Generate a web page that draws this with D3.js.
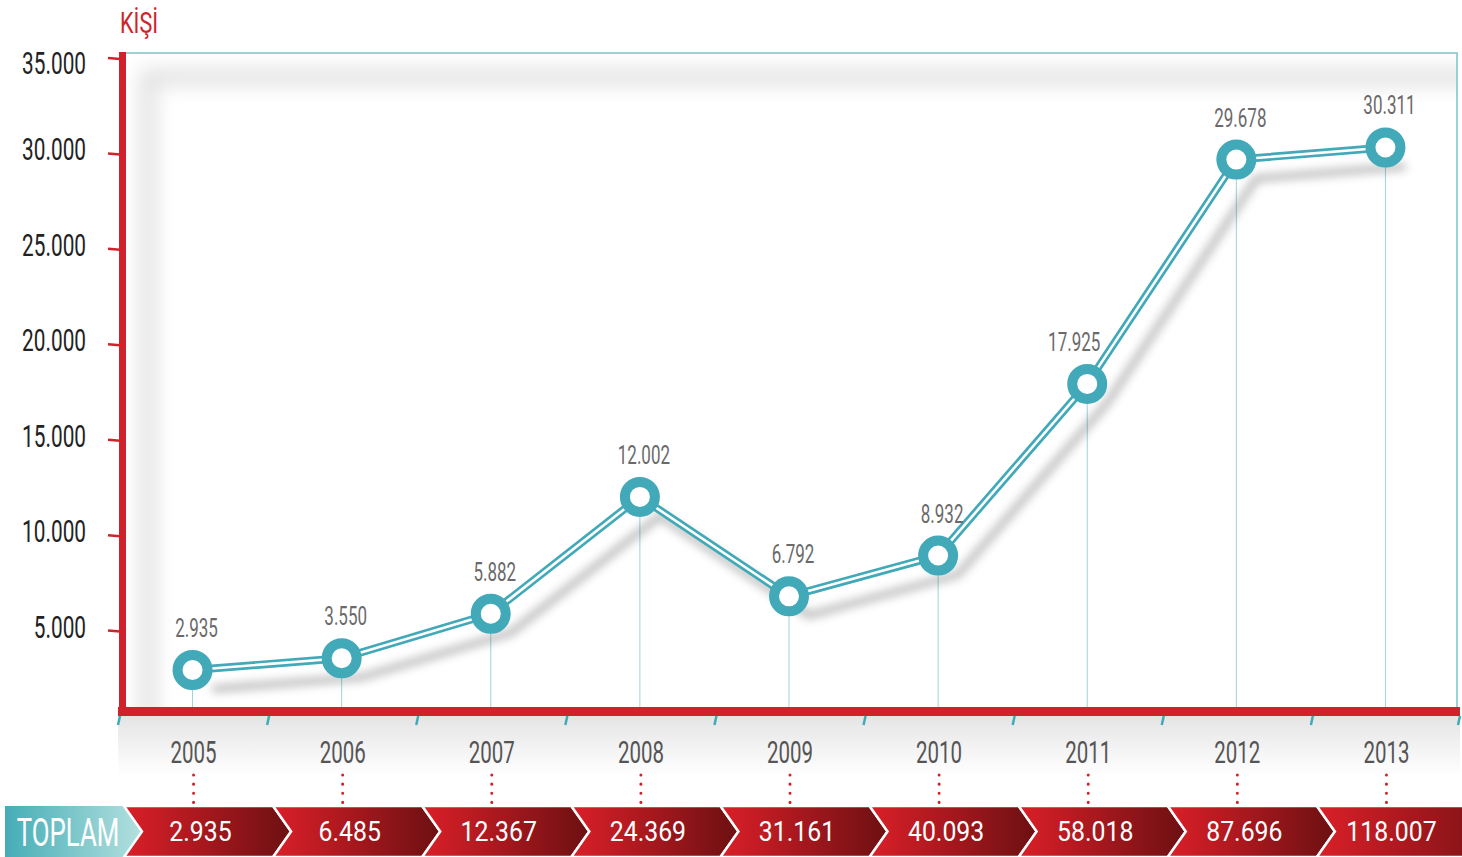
<!DOCTYPE html>
<html>
<head>
<meta charset="utf-8">
<script src="https://cdn.jsdelivr.net/npm/d3@7"></script>
<style>
  html, body { margin: 0; padding: 0; background: #fff; }
  svg { display: block; }
  text { font-family: Roboto, 'DejaVu Sans', sans-serif; }
</style>
</head>
<body>
<svg id="chart" width="1462" height="857"></svg>
<script>
// data
const years = ['2005', '2006', '2007', '2008', '2009', '2010', '2011', '2012', '2013']
const yearly = [2935, 3550, 5882, 12002, 6792, 8932, 17925, 29678, 30311]
const cumulative = [2935, 6485, 12367, 24369, 31161, 40093, 58018, 87696, 118007]
const yTicks = [5000, 10000, 15000, 20000, 25000, 30000, 35000]
const unitLabel = 'KİŞİ'
const totalLabel = 'TOPLAM'

const TEAL = '#42a9b9'
const RED = '#d0222a'
const fmt = v => d3.format(',')(v).replace(/,/g, '.')

const svg = d3.select('#chart')
const defs = svg.append('defs')

const frame = { left: 118, right: 1460, top: 53, bottom: 711 }

const x = d3.scaleBand().domain(years).range([frame.left, frame.right]).padding(0)
const y = d3.scaleLinear().domain([0, 35000]).range([726, 58])
const cx = d => x(d) + x.bandwidth() / 2

// label offsets that keep the number clear of the line
const labelShift = { 2011: -17 }

// filters & gradients
const blur = defs.append('filter').attr('id', 'blur').attr('x', '-20%').attr('y', '-20%').attr('width', '140%').attr('height', '140%')
blur.append('feGaussianBlur').attr('stdDeviation', 5)
const blurBig = defs.append('filter').attr('id', 'blurBig').attr('x', '-20%').attr('y', '-20%').attr('width', '140%').attr('height', '140%')
blurBig.append('feGaussianBlur').attr('stdDeviation', 10)

const redGrad = defs.append('linearGradient').attr('id', 'redGrad')
redGrad.append('stop').attr('offset', '0%').attr('stop-color', '#db1f28')
redGrad.append('stop').attr('offset', '100%').attr('stop-color', '#6c1012')

const tealGrad = defs.append('linearGradient').attr('id', 'tealGrad')
tealGrad.append('stop').attr('offset', '0%').attr('stop-color', '#45adb6')
tealGrad.append('stop').attr('offset', '100%').attr('stop-color', '#b3e0df')

const greyGrad = defs.append('linearGradient').attr('id', 'greyGrad').attr('x1', 0).attr('y1', 0).attr('x2', 0).attr('y2', 1)
greyGrad.append('stop').attr('offset', '0%').attr('stop-color', '#e4e4e4')
greyGrad.append('stop').attr('offset', '100%').attr('stop-color', '#ffffff')

defs.append('clipPath').attr('id', 'inner')
  .append('rect')
  .attr('x', frame.left + 6).attr('y', frame.top)
  .attr('width', frame.right - frame.left - 9).attr('height', frame.bottom - frame.top)

function label (g, px, py, str, size, sx, anchor, fill) {
  return g.append('text')
    .attr('transform', `translate(${px},${py}) scale(${sx},1)`)
    .attr('text-anchor', anchor)
    .attr('font-size', size)
    .attr('fill', fill)
    .text(str)
}

// soft shadow below the axis
svg.append('rect')
  .attr('x', frame.left).attr('y', frame.bottom + 4)
  .attr('width', frame.right - frame.left).attr('height', 60)
  .attr('fill', 'url(#greyGrad)')

// inner shadow of the panel
svg.append('g').attr('clip-path', 'url(#inner)')
  .append('path')
  .attr('d', `M${frame.right + 40},${frame.top + 24} L${frame.left + 30},${frame.top + 24} L${frame.left + 30},${frame.bottom + 40}`)
  .attr('fill', 'none')
  .attr('stroke', '#dcdcdc')
  .attr('stroke-width', 14)
  .attr('filter', 'url(#blurBig)')

// thin teal frame
svg.append('path')
  .attr('d', `M${frame.left + 6},${frame.top} H${frame.right - 3} V${frame.bottom}`)
  .attr('fill', 'none')
  .attr('stroke', '#79c3cc')
  .attr('stroke-width', 1.5)

// drop lines from points
svg.append('g')
  .selectAll('line')
  .data(years)
  .join('line')
  .attr('x1', d => cx(d)).attr('x2', d => cx(d))
  .attr('y1', (d, i) => y(yearly[i])).attr('y2', frame.bottom)
  .attr('stroke', '#9fd2da')
  .attr('stroke-width', 1)

// line
const line = d3.line().x(d => cx(d.year)).y(d => y(d.value))
const pts = years.map((year, i) => ({ year, value: yearly[i] }))

svg.append('path')
  .datum(pts)
  .attr('d', line)
  .attr('transform', 'translate(20,19)')
  .attr('fill', 'none')
  .attr('stroke', '#000')
  .attr('stroke-opacity', 0.28)
  .attr('stroke-width', 7)
  .attr('filter', 'url(#blur)')

svg.append('path')
  .datum(pts)
  .attr('d', line)
  .attr('fill', 'none')
  .attr('stroke', TEAL)
  .attr('stroke-width', 8)
  .attr('stroke-linejoin', 'round')

svg.append('path')
  .datum(pts)
  .attr('d', line)
  .attr('fill', 'none')
  .attr('stroke', '#fff')
  .attr('stroke-width', 2.6)
  .attr('stroke-linejoin', 'round')

// markers
svg.append('g')
  .selectAll('circle')
  .data(pts)
  .join('circle')
  .attr('cx', d => cx(d.year))
  .attr('cy', d => y(d.value))
  .attr('r', 15)
  .attr('fill', '#fff')
  .attr('stroke', TEAL)
  .attr('stroke-width', 10)

// value labels
const valueLabels = svg.append('g')
pts.forEach(d => {
  label(valueLabels, cx(d.year) + 4 + (labelShift[d.year] || 0), y(d.value) - 33, fmt(d.value), 25, 0.68, 'middle', '#6a6a6a')
})

// red axes
svg.append('rect')
  .attr('x', frame.left + 1).attr('y', frame.top - 1)
  .attr('width', 7).attr('height', frame.bottom - frame.top + 5)
  .attr('fill', RED)
svg.append('rect')
  .attr('x', frame.left).attr('y', frame.bottom - 4)
  .attr('width', frame.right - frame.left).attr('height', 9)
  .attr('fill', RED)

// y ticks and labels
const yAxis = svg.append('g')
yTicks.forEach(v => {
  yAxis.append('line')
    .attr('x1', 108).attr('x2', frame.left + 2)
    .attr('y1', y(v)).attr('y2', y(v) + 1)
    .attr('stroke', RED)
    .attr('stroke-width', 2.5)
  label(yAxis, 86, Math.max(y(v) + 7, 74), fmt(v), 32, 0.65, 'end', '#222')
})

label(svg, 120, 33, unitLabel, 30, 0.72, 'start', RED)

// x ticks at band edges
const edges = years.map(d => x(d)).concat([frame.right - 2])
svg.append('g')
  .selectAll('line')
  .data(edges)
  .join('line')
  .attr('x1', d => d + 2).attr('x2', d => d)
  .attr('y1', frame.bottom + 5).attr('y2', frame.bottom + 14)
  .attr('stroke', TEAL)
  .attr('stroke-width', 2.5)

// year labels
const xAxis = svg.append('g')
years.forEach(year => {
  label(xAxis, cx(year) + 1, 763, year, 32, 0.64, 'middle', '#555')
})

// dotted connectors
svg.append('g')
  .selectAll('line')
  .data(years)
  .join('line')
  .attr('x1', d => cx(d) + 1).attr('x2', d => cx(d) + 1)
  .attr('y1', 775).attr('y2', 804)
  .attr('stroke', RED)
  .attr('stroke-width', 3)
  .attr('stroke-linecap', 'round')
  .attr('stroke-dasharray', '0.1,9')

// total band
const band = { top: 806, bottom: 857, depth: 18 }
const mid = (band.top + band.bottom) / 2
const bounds = years.map(d => x(d) + 6)
const tot = svg.append('g')

tot.append('path')
  .attr('d', `M5,${band.top} H${bounds[0]} L${bounds[0] + band.depth},${mid} L${bounds[0]},${band.bottom} H5 Z`)
  .attr('fill', 'url(#tealGrad)')

years.forEach((year, i) => {
  const a = bounds[i]
  const b = i < years.length - 1 ? bounds[i + 1] : 1462 + 40
  tot.append('path')
    .attr('d', `M${a},${band.top} H${b} L${b + band.depth},${mid} L${b},${band.bottom} H${a} L${a + band.depth},${mid} Z`)
    .attr('fill', 'url(#redGrad)')
    .attr('stroke', '#fff')
    .attr('stroke-width', 2.5)
    .attr('stroke-linejoin', 'miter')
  const bEnd = i < years.length - 1 ? bounds[i + 1] : 1462
  label(tot, (a + bEnd) / 2 + 2, 841, fmt(cumulative[i]), 27, 0.92, 'middle', '#fff')
})

label(tot, 68, 846, totalLabel, 38, 0.68, 'middle', '#fff')
</script>
</body>
</html>
